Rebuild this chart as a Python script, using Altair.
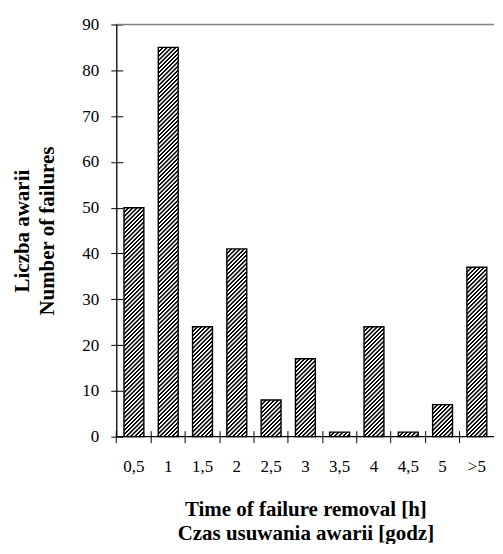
import altair as alt
import pandas as pd

categories = ["0,5", "1", "1,5", "2", "2,5", "3", "3,5", "4", "4,5", "5", ">5"]
counts = [50, 85, 24, 41, 8, 17, 1, 24, 1, 7, 37]
y_ticks = [0, 10, 20, 30, 40, 50, 60, 70, 80, 90]
x_title = ["Time of failure removal [h]", "Czas usuwania awarii [godz]"]
y_title = ["Liczba awarii", "Number of failures"]

W = 378
H = 413
YMAX = 90
BAND = 0.58
FONT = "Liberation Serif"

df = pd.DataFrame({"cat": categories, "count": counts})
step = W / len(categories)


def hatch(value):
    """Diagonal '///' hatch built as a soft-edged linear gradient (bbox units)."""
    w = BAND * step
    h = max(value / YMAX * H, 0.5)
    L = w + h
    period = 4.2
    stops = []
    pos = 0.0
    while pos < L:
        offs = [pos, pos + 0.33 * period, pos + 0.5 * period, pos + 0.83 * period]
        cols = ["#000000", "#000000", "#ffffff", "#ffffff"]
        for o, col in zip(offs, cols):
            stops.append(alt.GradientStop(offset=min(o / L, 1.0), color=col))
        pos += period
    k = L / (w * w + h * h)
    return alt.LinearGradient(
        gradient="linear", stops=stops, x1=0, y1=0, x2=w * k, y2=h * k
    )


x_enc = alt.X(
    "cat:N",
    sort=categories,
    scale=alt.Scale(domain=categories, paddingInner=0, paddingOuter=0),
    axis=alt.Axis(
        title=x_title,
        bandPosition=0,
        labelAngle=0,
        tickSize=12,
        offset=-6,
        domain=False,
        tickColor="black",
        tickWidth=1,
        labelFont=FONT,
        labelFontSize=17,
        labelColor="black",
        labelPadding=16,
        labelOverlap=False,
        titleFont=FONT,
        titleFontSize=21,
        titleFontWeight="bold",
        titleColor="black",
        titleLineHeight=24,
        titlePadding=24,
    ),
)
y_enc = alt.Y(
    "count:Q",
    scale=alt.Scale(domain=[0, YMAX], nice=False),
    axis=alt.Axis(
        values=y_ticks,
        title=y_title,
        tickSize=12,
        offset=-6,
        domain=False,
        grid=False,
        tickColor="black",
        tickWidth=1,
        labelFont=FONT,
        labelFontSize=17,
        labelColor="black",
        labelPadding=12,
        titleFont=FONT,
        titleFontSize=21,
        titleFontWeight="bold",
        titleColor="black",
        titleLineHeight=25,
        titlePadding=24,
    ),
)

base = alt.Chart(df).encode(x=x_enc, y=y_enc)

bar_layers = []
for c, v in zip(categories, counts):
    bar_layers.append(
        base.transform_filter(alt.datum.cat == c).mark_bar(
            fill=hatch(v),
            stroke="black",
            strokeWidth=1.4,
            width=alt.RelativeBandSize(BAND),
        )
    )

one = pd.DataFrame({"d": [0]})
top_line = alt.Chart(one).mark_rule(color="#808080", strokeWidth=1.6).encode(
    y=alt.value(0)
)
left_line = alt.Chart(one).mark_rule(color="black", strokeWidth=1.3).encode(
    x=alt.value(0)
)
base_line = alt.Chart(one).mark_rule(color="black", strokeWidth=1.3).encode(
    y=alt.value(H)
)

chart = alt.layer(top_line, *bar_layers, left_line, base_line).properties(
    width=W,
    height=H,
    padding={"left": 4, "top": 7, "right": 0, "bottom": 0},
    background="white",
).configure_view(stroke=None)

chart.save("out.html", embed_options={"renderer": "svg", "actions": False})
